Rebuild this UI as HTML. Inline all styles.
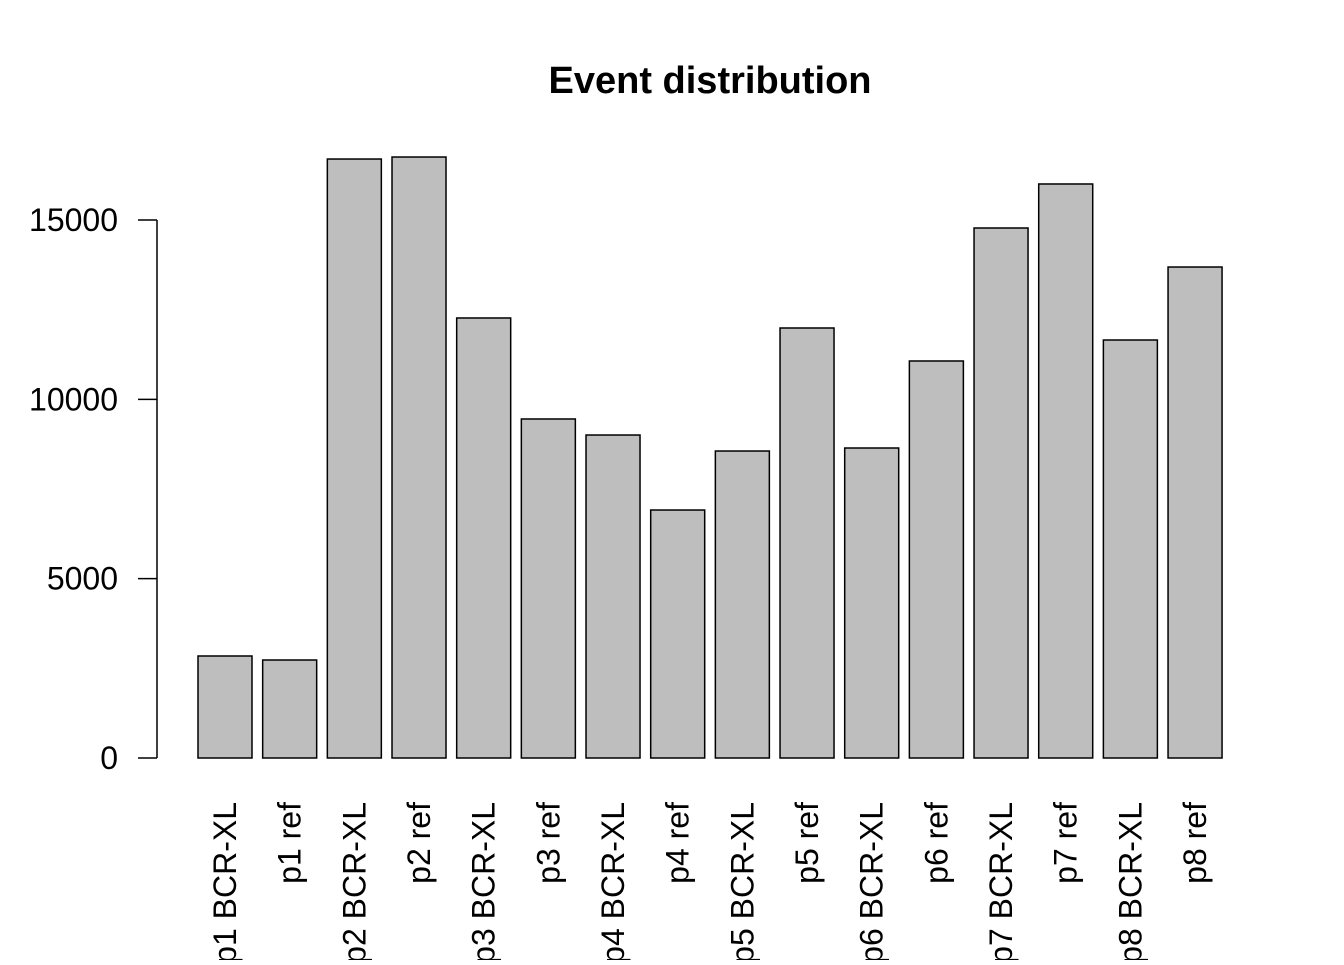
<!DOCTYPE html>
<html><head><meta charset="utf-8"><style>html,body{margin:0;padding:0;background:#fff}</style></head>
<body>
<svg id="chart" width="1344" height="960" xmlns="http://www.w3.org/2000/svg" font-family="Liberation Sans, Arial, sans-serif">
<text x="710" y="93" text-anchor="middle" font-size="38" font-weight="bold">Event distribution</text>
<g id="yaxis"></g>
<g id="bars"></g>
<g id="xlabels"></g>
</svg>
<script>
const categories = ["p1 BCR-XL","p1 ref","p2 BCR-XL","p2 ref","p3 BCR-XL","p3 ref","p4 BCR-XL","p4 ref","p5 BCR-XL","p5 ref","p6 BCR-XL","p6 ref","p7 BCR-XL","p7 ref","p8 BCR-XL","p8 ref"];
const values = [2844,2732,16700,16756,12268,9452,9005,6914,8559,11989,8643,11069,14777,16004,11654,13689];
const yTicks = [0,5000,10000,15000];
const NS="http://www.w3.org/2000/svg";
function y(v){return 758 - v*(538/15000);}
function xLeft(i){return 198 + i*64.67;}
const bw=54;
function mk(tag,attrs,parent){const e=document.createElementNS(NS,tag);for(const k in attrs)e.setAttribute(k,attrs[k]);parent.appendChild(e);return e;}
const ya=document.getElementById('yaxis');
const axl=mk('line',{x1:157,x2:157,y1:y(15000),y2:y(0),stroke:'#000','stroke-width':1.5},ya);


yTicks.forEach(t=>{
  const tk=mk('line',{x1:138,x2:157,y1:y(t),y2:y(t),stroke:'#000','stroke-width':1.5},ya);
  
  
  const tl=mk('text',{x:118,y:y(t)+11,'text-anchor':'end','font-size':32},ya);
  
  
  tl.textContent=t;
});
const bg=document.getElementById('bars'), xg=document.getElementById('xlabels');
values.forEach((v,i)=>{
  const r=mk('rect',{x:xLeft(i),y:y(v),width:bw,height:y(0)-y(v),fill:'#bebebe',stroke:'#000','stroke-width':1.5},bg);
  
  
  const cx=xLeft(i)+bw/2;
  const t=mk('text',{x:0,y:0,transform:`translate(${cx+11},802) rotate(-90)`,'text-anchor':'end','font-size':32},xg);
  
  
  t.textContent=categories[i];
});
</script>
</body></html>
